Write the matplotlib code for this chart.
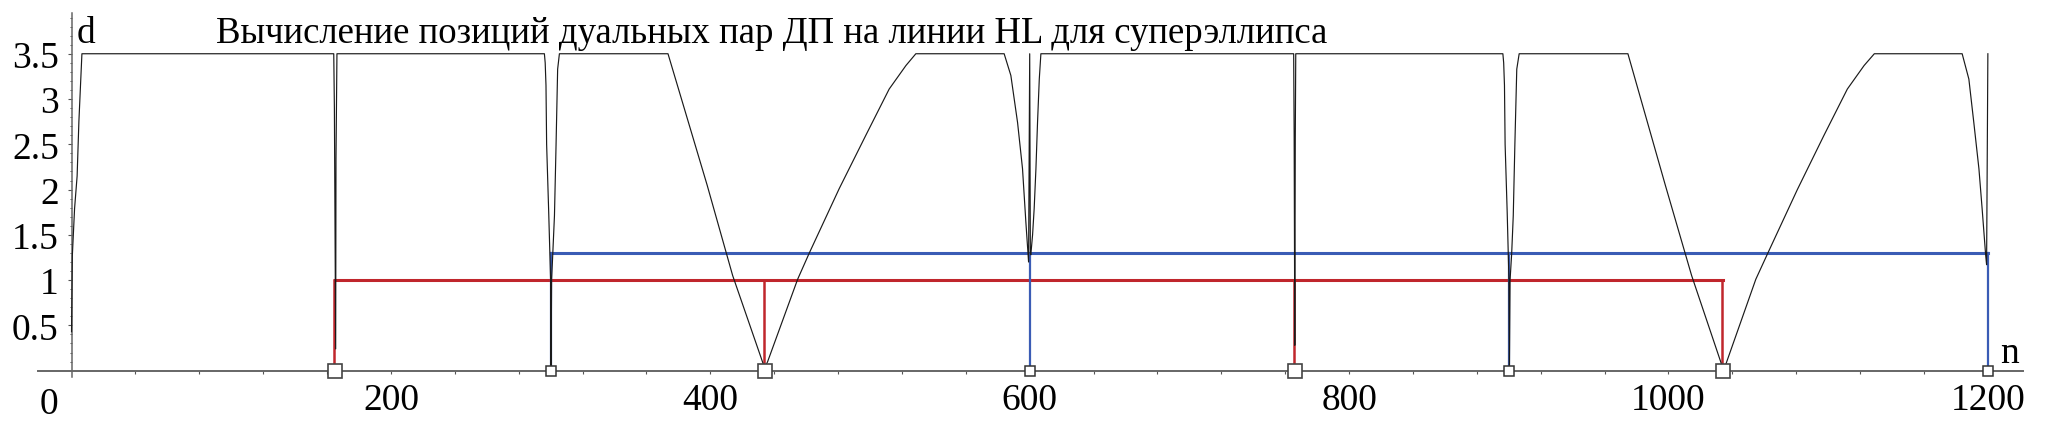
import matplotlib
matplotlib.use("Agg")
import matplotlib.pyplot as plt
from matplotlib.ticker import FixedLocator

plt.rcParams['font.family'] = ['Liberation Serif', 'DejaVu Serif']

# расстояние d(n) — чёрная кривая
curve_n = [0, 0.5, 1.9, 3.5, 4.6, 6.5,
           164.2, 164.6, 165.4, 165.6, 166.2,
           296.1, 296.6, 297.1, 297.5, 298.8, 300.0, 300.3, 300.6, 301.3, 302.4, 303.4, 304.4, 305.5,
           373.5, 398.0, 414.0, 434.0,
           435.9, 454.7, 462.0, 480.7, 497.4, 512.0, 522.5, 528.7,
           584.0, 588.2, 592.4, 595.5, 597.6, 599.3, 600.0, 600.4, 600.7, 601.8, 602.8, 603.9, 604.9, 606.0, 607.0,
           765.3, 765.6, 766.0, 766.3, 766.6,
           896.3, 896.8, 897.3, 897.7, 899.0, 900.1, 900.4, 900.8, 901.8, 902.8, 903.8, 905.0, 906.5,
           974.6, 998.0, 1014.5, 1034.0,
           1035.9, 1054.7, 1062.0, 1080.7, 1097.4, 1112.0, 1122.5, 1128.9,
           1183.9, 1188.1, 1191.2, 1194.4, 1196.4, 1198.6, 1199.2, 1200.0]
curve_d = [0.43, 1.27, 1.79, 2.15, 2.75, 3.5,
           3.5, 2.9, 0.24, 2.34, 3.5,
           3.5, 3.4, 3.15, 2.5, 1.75, 1.0, 0.02, 1.0, 1.27, 1.71, 2.49, 3.33, 3.5,
           3.5, 2.05, 1.05, 0.03,
           0.1, 1.01, 1.3, 2.01, 2.6, 3.11, 3.37, 3.5,
           3.5, 3.26, 2.74, 2.23, 1.64, 1.2, 3.5, 1.3, 1.28, 1.5, 1.79, 2.23, 2.74, 3.22, 3.5,
           3.5, 2.6, 0.28, 2.55, 3.5,
           3.5, 3.4, 3.15, 2.5, 1.75, 1.0, 0.02, 1.0, 1.29, 1.71, 2.49, 3.33, 3.5,
           3.5, 2.05, 1.05, 0.03,
           0.07, 1.01, 1.29, 2.0, 2.6, 3.11, 3.37, 3.5,
           3.5, 3.22, 2.74, 2.23, 1.79, 1.28, 1.17, 3.5]

# дуальные пары
red_pos = [165, 434, 766, 1034]
red_level = 1.0
blue_pos = [300, 600, 900, 1200]
blue_level = 1.3

x_ticks = [200, 400, 600, 800, 1000, 1200]
x_minor = [40, 80, 120, 160, 240, 280, 320, 360, 440, 480, 520, 560, 640, 680, 720, 760,
           840, 880, 920, 960, 1040, 1080, 1120, 1160]
y_ticks = [0.5, 1, 1.5, 2, 2.5, 3, 3.5]
y_labels = ['0.5', '1', '1.5', '2', '2.5', '3', '3.5']
y_minor = [0.1, 0.2, 0.3, 0.4, 0.6, 0.7, 0.8, 0.9, 1.1, 1.2, 1.3, 1.4, 1.6, 1.7, 1.8, 1.9,
           2.1, 2.2, 2.3, 2.4, 2.6, 2.7, 2.8, 2.9, 3.1, 3.2, 3.3, 3.4, 3.6, 3.7, 3.8, 3.9]

title = "Вычисление позиций дуальных пар ДП на линии HL для суперэллипса"

W, H = 2055, 427
fig = plt.figure(figsize=(W / 100, H / 100), dpi=100)
ax = fig.add_axes([38 / W, 49 / H, 1985 / W, 364 / H])
ax.set_xlim(-21, 1222)
ax.set_ylim(-0.07, 3.95)

red = '#c0262c'
blue = '#3a5cb5'

# красная и синяя скобки
ax.plot([red_pos[0], red_pos[-1]], [red_level, red_level], color=red, lw=2.2, zorder=2)
for p in red_pos:
    ax.plot([p - 0.6, p - 0.6], [0, red_level], color=red, lw=1.8, zorder=2)
ax.plot([blue_pos[0], blue_pos[-1]], [blue_level, blue_level], color=blue, lw=2.2, zorder=2)
for p in blue_pos:
    ax.plot([p, p], [0, blue_level], color=blue, lw=1.6, zorder=2)

ax.plot(curve_n, curve_d, color='#1a1a1a', lw=0.85, zorder=3)

ax.plot(red_pos, [0] * len(red_pos), 's', ms=10, mfc='white', mec='#444444', mew=1.2,
        zorder=5, clip_on=False)
ax.plot(blue_pos, [0] * len(blue_pos), 's', ms=7, mfc='white', mec='#333333', mew=1.1,
        zorder=5, clip_on=False)

# оси в стиле Maple
for s in ['top', 'right']:
    ax.spines[s].set_visible(False)
ax.spines['left'].set_position(('data', 0))
ax.spines['bottom'].set_position(('data', 0))
ax.spines['left'].set_color('#666666')
ax.spines['bottom'].set_color('#666666')
ax.spines['left'].set_linewidth(1.1)
ax.spines['bottom'].set_linewidth(1.4)

ax.xaxis.set_major_locator(FixedLocator(x_ticks))
ax.xaxis.set_minor_locator(FixedLocator(x_minor))
ax.set_xticklabels([str(t) for t in x_ticks])
ax.yaxis.set_major_locator(FixedLocator(y_ticks))
ax.yaxis.set_minor_locator(FixedLocator(y_minor))
ax.set_yticklabels(y_labels)

ax.tick_params(axis='x', which='both', direction='out', length=2.5, width=0.8,
               color='#555555', labelsize=27, pad=6)
ax.tick_params(axis='y', which='major', direction='out', length=3.2, width=0.8,
               color='#555555', labelsize=27, pad=6)
ax.tick_params(axis='y', which='minor', direction='out', length=1.8, width=0.7, color='#555555')

ax.text(-14, -0.18, '0', fontsize=27, ha='center', va='top')

fig.text(216 / W, 1 - 43 / H, title, fontsize=26.5, ha='left', va='baseline')
fig.text(77 / W, 1 - 43 / H, 'd', fontsize=27, ha='left', va='baseline')
fig.text(2000 / W, 1 - 363 / H, 'n', fontsize=27, ha='left', va='baseline')

fig.savefig('out.png', dpi=100)
